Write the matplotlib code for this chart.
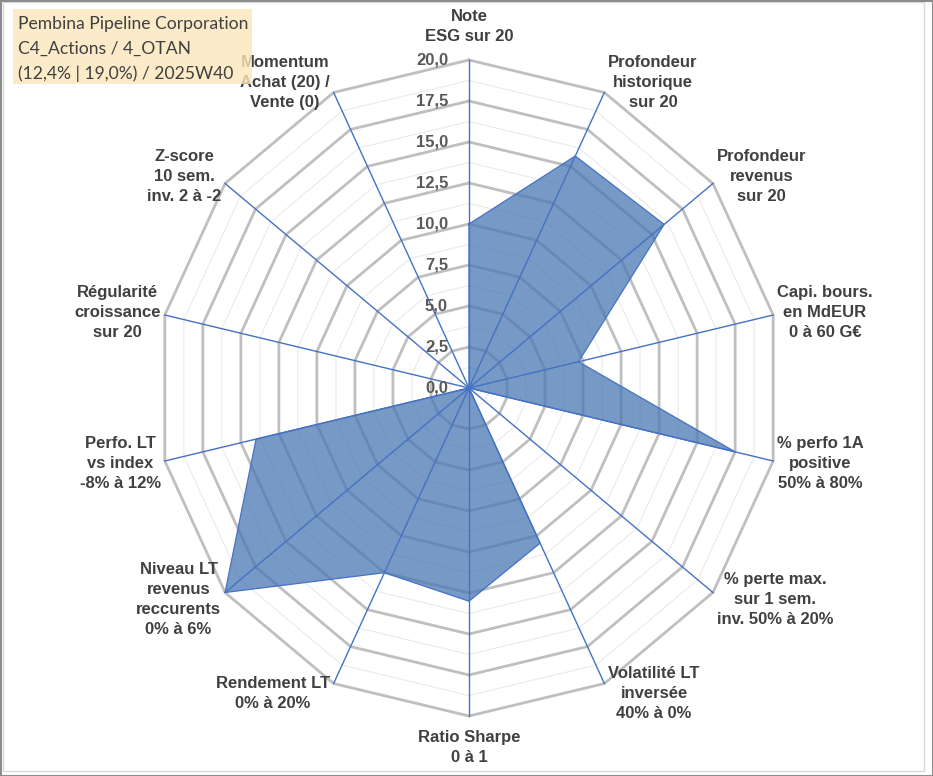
import numpy as np
import matplotlib
matplotlib.use("Agg")
import matplotlib.pyplot as plt
from matplotlib.patches import Rectangle

# ---------------------------------------------------------------------------
# Data
# ---------------------------------------------------------------------------
categories = [
    "Note\nESG sur 20",
    "Profondeur\nhistorique\nsur 20",
    "Profondeur\nrevenus\nsur 20",
    "Capi. bours.\nen MdEUR\n0 à 60 G€",
    "% perfo 1A\npositive\n50% à 80%",
    "% perte max.\nsur 1 sem.\ninv. 50% à 20%",
    "Volatilité LT\ninversée\n40% à 0%",
    "Ratio Sharpe\n0 à 1",
    "Rendement LT\n0% à 20%",
    "Niveau LT\nrevenus\nreccurents\n0% à 6%",
    "Perfo. LT\nvs index\n-8% à 12%",
    "Régularité\ncroissance\nsur 20",
    "Z-score\n10 sem.\ninv. 2 à -2",
    "Momentum\nAchat (20) /\nVente (0)",
]
scores = [10.0, 15.7, 16.0, 7.2, 17.5, 0.0, 10.5, 13.0, 12.5, 20.0, 14.0, 0.0, 0.0, 0.0]
ticks = [0.0, 2.5, 5.0, 7.5, 10.0, 12.5, 15.0, 17.5, 20.0]
tick_labels = ["0,0", "2,5", "5,0", "7,5", "10,0", "12,5", "15,0", "17,5", "20,0"]
title_lines = ["Pembina Pipeline Corporation",
               "C4_Actions / 4_OTAN",
               "(12,4% | 19,0%) / 2025W40"]

# ---------------------------------------------------------------------------
# Figure / axes (radar drawn in cartesian axes, angle clockwise from top)
# ---------------------------------------------------------------------------
W, H = 933, 776
fig = plt.figure(figsize=(W / 100, H / 100), dpi=100)
ax = fig.add_axes([0, 0, 1, 1])
cx, cy = 469, 388          # centre in pixels
kx, ky = 15.6, 16.4        # pixels per unit
ax.set_xlim(-cx / kx, (W - cx) / kx)
ax.set_ylim(-(H - cy) / ky, cy / ky)
ax.axis("off")

n = len(categories)
theta = np.arange(n) * 2 * np.pi / n
sx, sy = np.sin(theta), np.cos(theta)
rmax = ticks[-1]

GRID = "#BFBFBF"
SPOKE = "#4472C4"
TXT = "#404040"

# minor rings
for lev in np.arange(1.25, rmax, 2.5):
    ax.plot(np.append(sx, sx[0]) * lev, np.append(sy, sy[0]) * lev,
            color="#EAEAEA", lw=0.8, zorder=1)
# major rings
for lev in ticks[1:]:
    ax.plot(np.append(sx, sx[0]) * lev, np.append(sy, sy[0]) * lev,
            color=GRID, lw=2.0, zorder=2, solid_joinstyle="miter")

# filled area
v = np.array(scores)
ax.fill(sx * v, sy * v, facecolor="#4a77b4", alpha=0.75, edgecolor="none", zorder=3)
ax.plot(np.append(sx * v, sx[0] * v[0]), np.append(sy * v, sy[0] * v[0]),
        color=SPOKE, lw=0.9, zorder=4)

# spokes
for i in range(n):
    ax.plot([0, sx[i] * rmax], [0, sy[i] * rmax], color=SPOKE, lw=1.0, zorder=5)

# tick labels along the top axis
for t, lab in zip(ticks, tick_labels):
    ax.annotate(lab, xy=(0, t), xytext=(-21, 0), textcoords="offset pixels",
                ha="right", va="center", fontsize=12, fontweight="bold",
                color="#595959", family="Liberation Sans", zorder=6)

# category labels
for i, lab in enumerate(categories):
    s, c = sx[i], sy[i]
    if abs(s) < 0.1:
        ha = "center"
        dx = 0
        va = "bottom" if c > 0 else "top"
        dy = 16 if c > 0 else -14
    else:
        ha = "left" if s > 0 else "right"
        dx = 4 if s > 0 else -4
        va = "center"
        dy = 11 * c
    ax.annotate(lab, xy=(s * rmax, c * rmax), xytext=(dx, dy),
                textcoords="offset pixels", ha=ha, va=va,
                multialignment="center", fontsize=12, fontweight="bold",
                color=TXT, family="Liberation Sans", linespacing=1.42, zorder=6)

# ---------------------------------------------------------------------------
# Title box (semi-transparent, drawn over the chart)
# ---------------------------------------------------------------------------
fig.patches.append(Rectangle((13 / W, 1 - 84 / H), 239 / W, 75 / H,
                             transform=fig.transFigure, facecolor="#FCE6BC",
                             edgecolor="none", alpha=0.8, zorder=1))
for k, line in enumerate(title_lines):
    fig.text(18 / W, 1 - (24 + 25 * k) / H, line, ha="left", va="center",
             fontsize=12.6, color=TXT, family="Lato", zorder=3)

# chart frame
fig.patches.append(Rectangle((3 / W, 5 / H), 921 / W, 769 / H,
                             transform=fig.transFigure, facecolor="none",
                             edgecolor="#D9D9D9", lw=1.0, zorder=2))
fig.patches.append(Rectangle((0.5 / W, 0.5 / H), (W - 1) / W, (H - 1) / H,
                             transform=fig.transFigure, facecolor="none",
                             edgecolor="#8C8C8C", lw=1.5, zorder=2))

fig.savefig("out.png", dpi=100)
